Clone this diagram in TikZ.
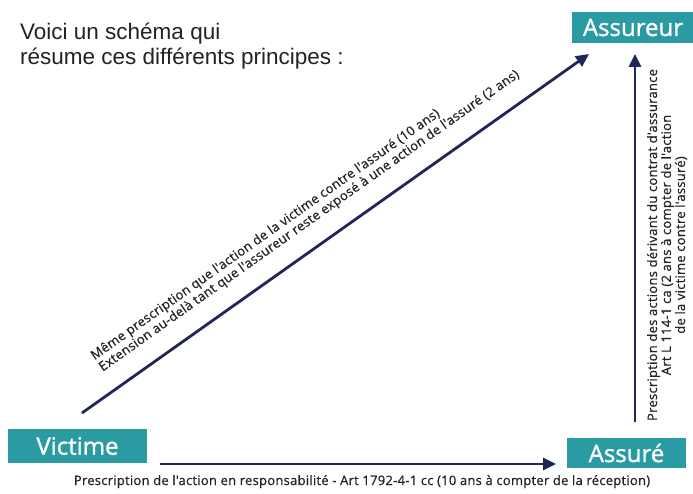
\documentclass[tikz,border=0pt]{standalone}
\usepackage{fontspec}
\setmainfont{Liberation Sans}
\newfontfamily\labfont[FakeBold=0.6,LetterSpace=2]{Open Sans}
\newfontfamily\boxfont[FakeBold=1.2]{Open Sans}
\usetikzlibrary{arrows.meta}
\definecolor{teal1}{RGB}{42,154,163}
\definecolor{navy1}{RGB}{30,38,90}
\definecolor{txt1}{RGB}{35,35,35}
\tikzset{
  actor/.style={fill=teal1, text=white, inner sep=0pt, font=\boxfont\fontsize{24}{25}\selectfont},
  link/.style={draw=navy1, line width=2.8pt, -{Triangle[length=13pt,width=12pt]}},
  lab/.style={text=txt1, inner sep=0pt, font=\labfont\fontsize{13}{14}\selectfont}
}
\begin{document}
\begin{tikzpicture}[x=1pt,y=-1pt]
\useasboundingbox (0,0) rectangle (693,494);
\fill[white] (0,0) rectangle (693,494);
\begin{scope}
\clip (0,0) rectangle (693,494);
% title
\node[anchor=base west, inner sep=0pt, align=left, text=txt1, font=\fontsize{22.5}{25.5}\selectfont] (title) at (20,65)
  {Voici un schéma qui\\résume ces différents principes :};
% actor boxes
\node[actor, minimum width=139pt, minimum height=34pt] (victime) at (77.5,446) {Victime};
\node[actor, minimum width=119pt, minimum height=30pt] (assure) at (626.5,453) {Assuré};
\node[actor, minimum width=122pt, minimum height=31pt] (assureur) at (633,27.5) {Assureur};
% connector ends
\coordinate (h1) at (160,464);
\coordinate (h2) at (556,464);
\coordinate (d1) at (82,413);
\coordinate (d2) at (589,54);
\coordinate (v1) at (635,422);
\coordinate (v2) at (635,54);
\draw[link] (h1) -- (h2);
\draw[link] (d1) -- (d2);
\draw[link] (v1) -- (v2);
% labels
\node[lab, anchor=base] (hlab) at (362,485)
  {Prescription de l'action en responsabilité - Art 1792-4-1 cc (10 ans à compter de la réception)};
\node[lab, anchor=south west, align=left, rotate=35.3] (dlab) at (104.5,374.5)
  {Même prescription que l'action de la victime contre l'assuré (10 ans)\\Extension au-delà tant que l'assureur reste exposé à une action de l'assuré (2 ans)};
\node[lab, align=center, rotate=90] (vlab) at (667,245)
  {Prescription des actions dérivant du contrat d'assurance\\Art L 114-1 ca (2 ans à compter de l'action\\de la victime contre l'assuré)};
\end{scope}
\end{tikzpicture}
\end{document}
